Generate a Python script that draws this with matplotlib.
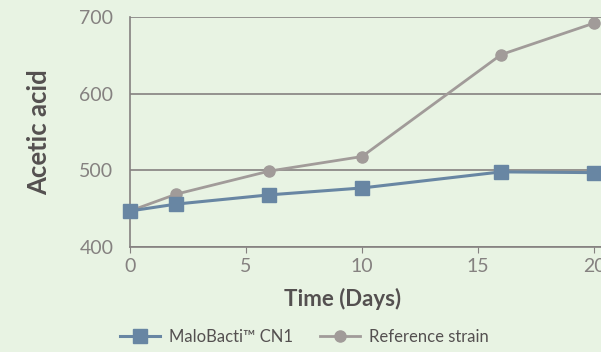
import matplotlib.pyplot as plt
from matplotlib.lines import Line2D

days_malo = [0, 2, 6, 10, 16, 20]
acetic_malo = [447, 456, 468, 477, 498, 497]

days_ref = [0, 2, 6, 10, 16, 20]
acetic_ref = [447, 469, 499, 518, 651, 692]

x_ticks = [0, 5, 10, 15, 20]
y_ticks = [400, 500, 600, 700]

bg = '#e8f3e3'
blue = '#6886a3'
grey = '#a19b99'
grid_col = '#858080'
text_col = '#858180'
label_col = '#545050'

plt.rcParams['font.family'] = ['Lato', 'DejaVu Sans']

fig = plt.figure(figsize=(6.01, 3.52), dpi=100, facecolor=bg)
ax = fig.add_axes([130 / 601, 105 / 352, 471 / 601, 230 / 352])
ax.set_facecolor(bg)

ax.plot(days_ref, acetic_ref, color=grey, lw=2, marker='o', ms=8, clip_on=False, zorder=3)
ax.plot(days_malo, acetic_malo, color=blue, lw=2.2, marker='s', ms=10, clip_on=False, zorder=4)

ax.set_xlim(0, 20.3)
ax.set_ylim(400, 700)
ax.set_xticks(x_ticks)
ax.set_yticks(y_ticks)
ax.yaxis.grid(True, color=grid_col, lw=1.2)
ax.set_axisbelow(True)

for side in ['top', 'right']:
    ax.spines[side].set_visible(False)
for side in ['left', 'bottom']:
    ax.spines[side].set_color(grid_col)
    ax.spines[side].set_linewidth(1.2)

ax.tick_params(axis='y', length=0, pad=12, labelsize=14, labelcolor=text_col)
ax.tick_params(axis='x', length=4, color=grid_col, pad=4, labelsize=14, labelcolor=text_col)

ax.set_ylabel('Acetic acid', fontsize=18.5, fontweight='bold', color=label_col, labelpad=20)
ax.set_xlabel('Time (Days)', fontsize=16, fontweight='bold', color=label_col)
ax.xaxis.set_label_coords(0.452, -0.18)

handles = [
    Line2D([], [], color=blue, lw=2.2, marker='s', ms=10),
    Line2D([], [], color=grey, lw=2, marker='o', ms=8),
]
leg = fig.legend(handles, ['MaloBacti\u2122 CN1', 'Reference strain'], loc='center left',
                 bbox_to_anchor=(120 / 601, 1 - 337 / 352), ncol=2, frameon=False,
                 borderpad=0, borderaxespad=0,
                 handlelength=2.4, columnspacing=1.6, handletextpad=0.55,
                 prop={'size': 12})
for t in leg.get_texts():
    t.set_color(label_col)

fig.savefig('out.png', dpi=100, facecolor=bg)
